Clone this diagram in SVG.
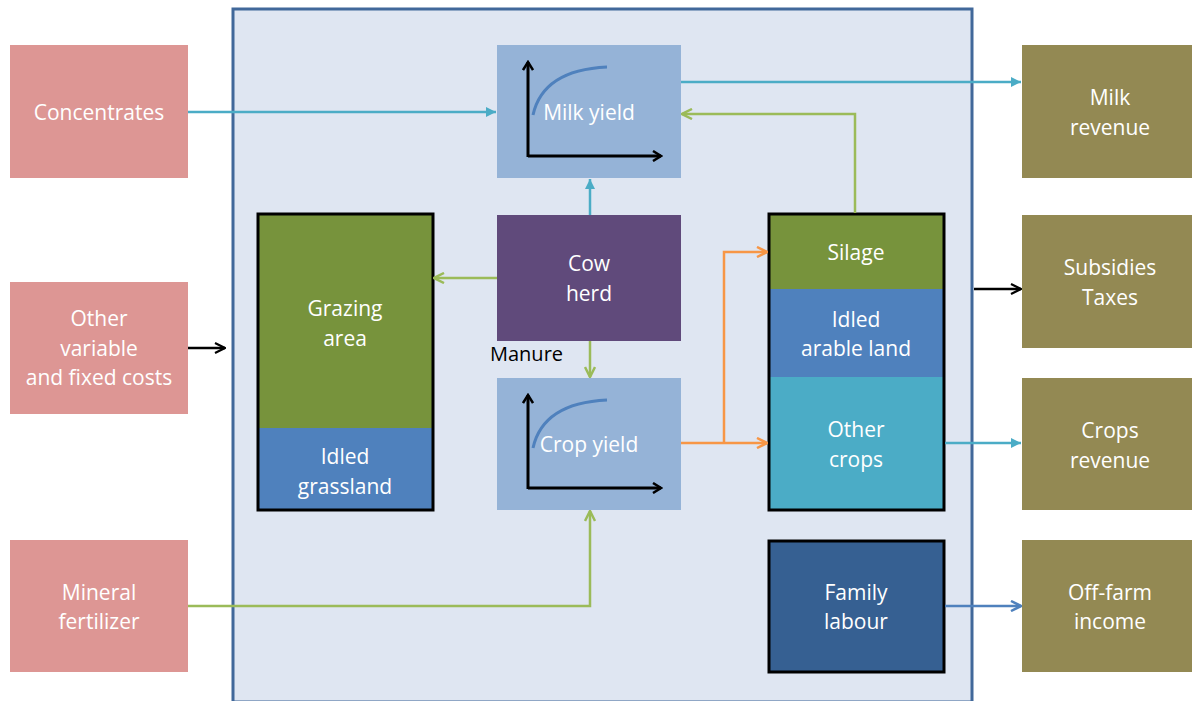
<svg xmlns="http://www.w3.org/2000/svg" width="1192" height="701" viewBox="0 0 1192 701">
<defs>
<style>
text{font-family:"Open Sans","Liberation Sans",sans-serif;font-size:21px;text-anchor:middle;fill:#fff}
.pink{fill:#dd9694}
.olive{fill:#938953}
.line{fill:none;stroke-width:2.5}
.ax{fill:none;stroke:#000;stroke-width:3}
</style>
<marker id="aTeal2" viewBox="0 0 12 12" refX="11" refY="6" markerWidth="12" markerHeight="12" orient="auto" markerUnits="userSpaceOnUse"><path d="M1,1 L11,6 L1,11 Z" fill="#4bacc6"/></marker>
<marker id="aGreen" viewBox="0 0 12 12" refX="11" refY="6" markerWidth="12" markerHeight="12" orient="auto" markerUnits="userSpaceOnUse"><path d="M1,1 L11,6 L1,11" fill="none" stroke="#9bbb59" stroke-width="2.5"/></marker>
<marker id="aOrange" viewBox="0 0 12 12" refX="11" refY="6" markerWidth="12" markerHeight="12" orient="auto" markerUnits="userSpaceOnUse"><path d="M1,1 L11,6 L1,11" fill="none" stroke="#f79646" stroke-width="2.5"/></marker>
<marker id="aBlack" viewBox="0 0 12 12" refX="11" refY="6" markerWidth="12" markerHeight="12" orient="auto" markerUnits="userSpaceOnUse"><path d="M1,1 L11,6 L1,11" fill="none" stroke="#000" stroke-width="2.2"/></marker>
<marker id="aBlue" viewBox="0 0 12 12" refX="11" refY="6" markerWidth="12" markerHeight="12" orient="auto" markerUnits="userSpaceOnUse"><path d="M1,1 L11,6 L1,11" fill="none" stroke="#4f81bd" stroke-width="2.5"/></marker>
<marker id="aAx" viewBox="0 0 12 12" refX="10" refY="6" markerWidth="12" markerHeight="12" orient="auto" markerUnits="userSpaceOnUse"><path d="M2,1 L10,6 L2,11" fill="none" stroke="#000" stroke-width="2.5"/></marker>
</defs>

<g id="frame"><rect x="233" y="9" width="739" height="693" fill="#dfe6f2" stroke="#41689a" stroke-width="3"/></g>

<g id="concentrates"><rect class="pink" x="10" y="45" width="178" height="133"/><text x="99" y="120">Concentrates</text></g>
<g id="costs"><rect class="pink" x="10" y="282" width="178" height="132"/><text x="99" y="326">Other</text><text x="99" y="356">variable</text><text x="99" y="385">and fixed costs</text></g>
<g id="fertilizer"><rect class="pink" x="10" y="540" width="178" height="132"/><text x="99" y="600">Mineral</text><text x="99" y="629">fertilizer</text></g>

<g id="milk-revenue"><rect class="olive" x="1022" y="45" width="170" height="133"/><text x="1110" y="105">Milk</text><text x="1110" y="135">revenue</text></g>
<g id="subsidies"><rect class="olive" x="1022" y="215" width="170" height="133"/><text x="1110" y="275">Subsidies</text><text x="1110" y="305">Taxes</text></g>
<g id="crops-revenue"><rect class="olive" x="1022" y="378" width="170" height="132"/><text x="1110" y="438">Crops</text><text x="1110" y="468">revenue</text></g>
<g id="offfarm"><rect class="olive" x="1022" y="540" width="170" height="132"/><text x="1110" y="600">Off-farm</text><text x="1110" y="629">income</text></g>

<g id="milk-yield"><rect x="497" y="45" width="184" height="133" fill="#95b3d7"/>
<path class="ax" d="M528,157 L528,62" marker-end="url(#aAx)"/><path class="ax" d="M528,156 L661,156" marker-end="url(#aAx)"/>
<path d="M533,115 Q543,70 607,67" fill="none" stroke="#4f81bd" stroke-width="3"/>
<text x="589" y="120">Milk yield</text></g>

<g id="crop-yield"><rect x="497" y="378" width="184" height="132" fill="#95b3d7"/>
<path class="ax" d="M528,489 L528,395" marker-end="url(#aAx)"/><path class="ax" d="M528,488 L661,488" marker-end="url(#aAx)"/>
<path d="M533,448 Q543,403 607,400" fill="none" stroke="#4f81bd" stroke-width="3"/>
<text x="589" y="452">Crop yield</text></g>

<g id="cow-herd"><rect x="497" y="215" width="184" height="126" fill="#604a7b"/><text x="589" y="271">Cow</text><text x="589" y="301">herd</text></g>

<g id="grazing"><rect x="258" y="214" width="175" height="214" fill="#77933c"/><rect x="258" y="428" width="175" height="82" fill="#4f81bd"/>
<rect x="258" y="214" width="175" height="296" fill="none" stroke="#000" stroke-width="3"/>
<text x="345" y="316">Grazing</text><text x="345" y="346">area</text><text x="345" y="464">Idled</text><text x="345" y="494">grassland</text></g>

<g id="arable"><rect x="769" y="214" width="175" height="75" fill="#77933c"/><rect x="769" y="289" width="175" height="88" fill="#4f81bd"/><rect x="769" y="377" width="175" height="133" fill="#4bacc6"/>
<rect x="769" y="214" width="175" height="296" fill="none" stroke="#000" stroke-width="3"/>
<text x="856" y="260">Silage</text><text x="856" y="327">Idled</text><text x="856" y="356">arable land</text><text x="856" y="437">Other</text><text x="856" y="467">crops</text></g>

<g id="family"><rect x="769" y="541" width="175" height="131" fill="#366092" stroke="#000" stroke-width="3"/><text x="856" y="600">Family</text><text x="856" y="629">labour</text></g>

<g id="connectors">
<path class="line" stroke="#4bacc6" d="M188,112 L496,112" marker-end="url(#aTeal2)"/>
<path class="line" stroke="#4bacc6" d="M681,82 L1021,82" marker-end="url(#aTeal2)"/>
<path class="line" stroke="#9bbb59" d="M855,213 L855,114 L682,114" marker-end="url(#aGreen)"/>
<path class="line" stroke="#4bacc6" d="M590,215 L590,179" marker-end="url(#aTeal2)"/>
<path class="line" stroke="#9bbb59" d="M497,278 L434,278" marker-end="url(#aGreen)"/>
<path class="line" stroke="#9bbb59" d="M590,341 L590,377" marker-end="url(#aGreen)"/>
<path class="line" stroke="#f79646" stroke-width="3" d="M681,443 L767,443" marker-end="url(#aOrange)"/>
<path class="line" stroke="#f79646" stroke-width="3" d="M724,443 L724,252 L767,252" marker-end="url(#aOrange)"/>
<path class="line" stroke="#4bacc6" d="M945,443 L1021,443" marker-end="url(#aTeal2)"/>
<path class="line" stroke="#4f81bd" stroke-width="3" d="M945,606 L1021,606" marker-end="url(#aBlue)"/>
<path class="line" stroke="#000" stroke-width="2" d="M188,348 L225,348" marker-end="url(#aBlack)"/>
<path class="line" stroke="#000" stroke-width="2" d="M974,289 L1021,289" marker-end="url(#aBlack)"/>
<path class="line" stroke="#9bbb59" d="M188,606 L590,606 L590,511" marker-end="url(#aGreen)"/>
<text x="490" y="361" style="fill:#000;font-size:20px;text-anchor:start">Manure</text>
</g>
</svg>
